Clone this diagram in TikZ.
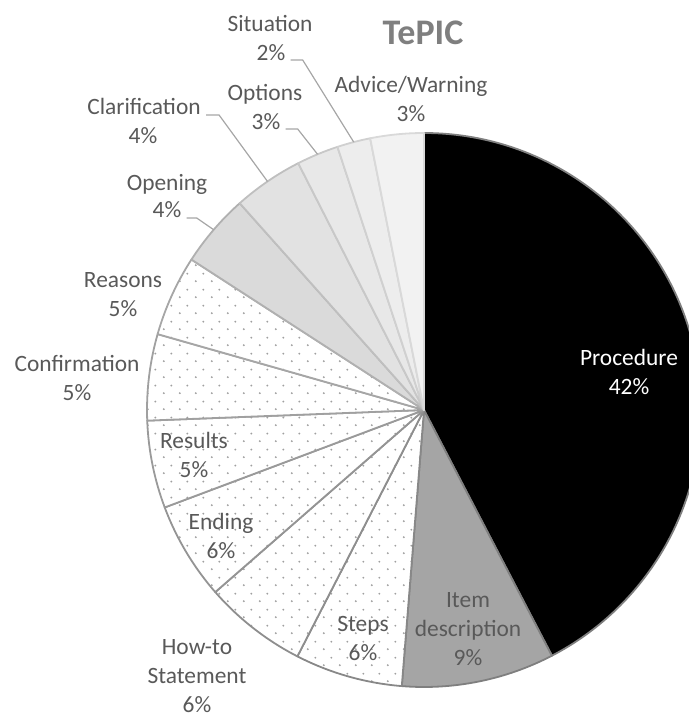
\documentclass[tikz,border=0pt]{standalone}
\usepackage{fontspec}
\setmainfont{Carlito}
\usetikzlibrary{patterns}
\pgfdeclarepatternformonly{tdots}{\pgfqpoint{0pt}{0pt}}{\pgfqpoint{8pt}{8pt}}{\pgfqpoint{8pt}{8pt}}{%
  \pgfpathcircle{\pgfqpoint{2pt}{2pt}}{0.55pt}%
  \pgfpathcircle{\pgfqpoint{6pt}{6pt}}{0.55pt}%
  \pgfusepath{fill}}
\definecolor{txt}{HTML}{595959}
\definecolor{ttl}{HTML}{7F7F7F}
\definecolor{ldr}{HTML}{A6A6A6}
\definecolor{dotc}{HTML}{A0A0A0}
\tikzset{
  slc/.style={line width=0.9pt, line join=round},
  dotted slice/.style={slc, preaction={fill=white}, pattern=tdots, pattern color=dotc},
  lbl/.style={font=\fontsize{11.7}{14.5}\selectfont, text=txt, align=center, inner sep=0pt},
  leader/.style={draw=ldr, line width=0.6pt},
  title/.style={font=\fontsize{18}{22}\selectfont\bfseries, text=ttl, inner sep=0pt}
}
\begin{document}
\begin{tikzpicture}[x=0.5pt,y=-0.5pt]
\useasboundingbox (0,0) rectangle (689,717);
\clip (0,0) rectangle (689,717);
\coordinate (c) at (424,410);
\def\R{277}
% slices (clockwise from 12 o'clock)
\filldraw[slc, fill=black, draw=ttl] (c) -- ++(-90:\R) arc[start angle=-90, end angle=62.5, radius=\R] -- cycle;
\filldraw[slc, fill={rgb,255:red,165;green,165;blue,165}, draw=ttl] (c) -- ++(62.5:\R) arc[start angle=62.5, end angle=94.6, radius=\R] -- cycle;
\draw[dotted slice, draw={rgb,255:red,136;green,136;blue,136}] (c) -- ++(94.6:\R) arc[start angle=94.6, end angle=117.2, radius=\R] -- cycle;
\draw[dotted slice, draw={rgb,255:red,142;green,142;blue,142}] (c) -- ++(117.2:\R) arc[start angle=117.2, end angle=138.9, radius=\R] -- cycle;
\draw[dotted slice, draw={rgb,255:red,148;green,148;blue,148}] (c) -- ++(138.9:\R) arc[start angle=138.9, end angle=159.4, radius=\R] -- cycle;
\draw[dotted slice, draw={rgb,255:red,154;green,154;blue,154}] (c) -- ++(159.4:\R) arc[start angle=159.4, end angle=177.8, radius=\R] -- cycle;
\draw[dotted slice, draw={rgb,255:red,160;green,160;blue,160}] (c) -- ++(177.8:\R) arc[start angle=177.8, end angle=195.9, radius=\R] -- cycle;
\draw[dotted slice, draw={rgb,255:red,166;green,166;blue,166}] (c) -- ++(195.9:\R) arc[start angle=195.9, end angle=212.9, radius=\R] -- cycle;
\filldraw[slc, fill={rgb,255:red,218;green,218;blue,218}, draw={rgb,255:red,176;green,176;blue,176}] (c) -- ++(212.9:\R) arc[start angle=212.9, end angle=228.3, radius=\R] -- cycle;
\filldraw[slc, fill={rgb,255:red,226;green,226;blue,226}, draw={rgb,255:red,191;green,191;blue,191}] (c) -- ++(228.3:\R) arc[start angle=228.3, end angle=243, radius=\R] -- cycle;
\filldraw[slc, fill={rgb,255:red,232;green,232;blue,232}, draw={rgb,255:red,200;green,200;blue,200}] (c) -- ++(243:\R) arc[start angle=243, end angle=251.8, radius=\R] -- cycle;
\filldraw[slc, fill={rgb,255:red,237;green,237;blue,237}, draw={rgb,255:red,208;green,208;blue,208}] (c) -- ++(251.8:\R) arc[start angle=251.8, end angle=258.8, radius=\R] -- cycle;
\filldraw[slc, fill={rgb,255:red,242;green,242;blue,242}, draw={rgb,255:red,217;green,217;blue,217}] (c) -- ++(258.8:\R) arc[start angle=258.8, end angle=270, radius=\R] -- cycle;
% leader targets
\path (c) ++(255.3:\R) coordinate (sitE);
\path (c) ++(247.4:\R) coordinate (optE);
\path (c) ++(235.6:\R) coordinate (claE);
\path (c) ++(220.6:\R) coordinate (opeE);
% title
\node[title, anchor=base] (title) at (423,45) {TePIC};
% labels with leaders
\node[lbl, anchor=base] (sitn) at (270,31.7) {Situation};
\node[lbl, anchor=base] (sitp) at (271,61) {2\%};
\node[lbl, anchor=base] (optn) at (265,101) {Options};
\node[lbl, anchor=base] (optp) at (266,130) {3\%};
\node[lbl, anchor=base] (clan) at (144,115) {Clarification};
\node[lbl, anchor=base] (clap) at (143,143) {4\%};
\node[lbl, anchor=base] (open) at (167,190) {Opening};
\node[lbl, anchor=base] (opep) at (167,217) {4\%};
\draw[leader] ([xshift=2.5pt,yshift=0.5pt]sitp.base east) -- ++(12,0) -- (sitE);
\draw[leader] ([xshift=2.5pt,yshift=0.5pt]optp.base east) -- ++(12,0) -- (optE);
\draw[leader] ([xshift=2.5pt]clan.base east) -- ++(13,0) -- (claE);
\draw[leader] ([xshift=2.5pt,yshift=-0.5pt]opep.base east) -- ++(10,0) -- (opeE);
% other labels
\node[lbl] (adv) at (411,98.5) {Advice/Warning\\3\%};
\node[lbl] (rea) at (123,294.5) {Reasons\\5\%};
\node[lbl] (con) at (77,378) {Confirmation\\5\%};
\node[lbl] (res) at (194,455) {Results\\5\%};
\node[lbl] (end) at (221,535.5) {Ending\\6\%};
\node[lbl] (ste) at (363,638.5) {Steps\\6\%};
\node[lbl] (how) at (197,676) {How-to\\Statement\\6\%};
\node[lbl] (ite) at (468,629) {Item\\description\\9\%};
\node[lbl, text=white] (pro) at (629,371.5) {Procedure\\42\%};
\end{tikzpicture}
\end{document}
